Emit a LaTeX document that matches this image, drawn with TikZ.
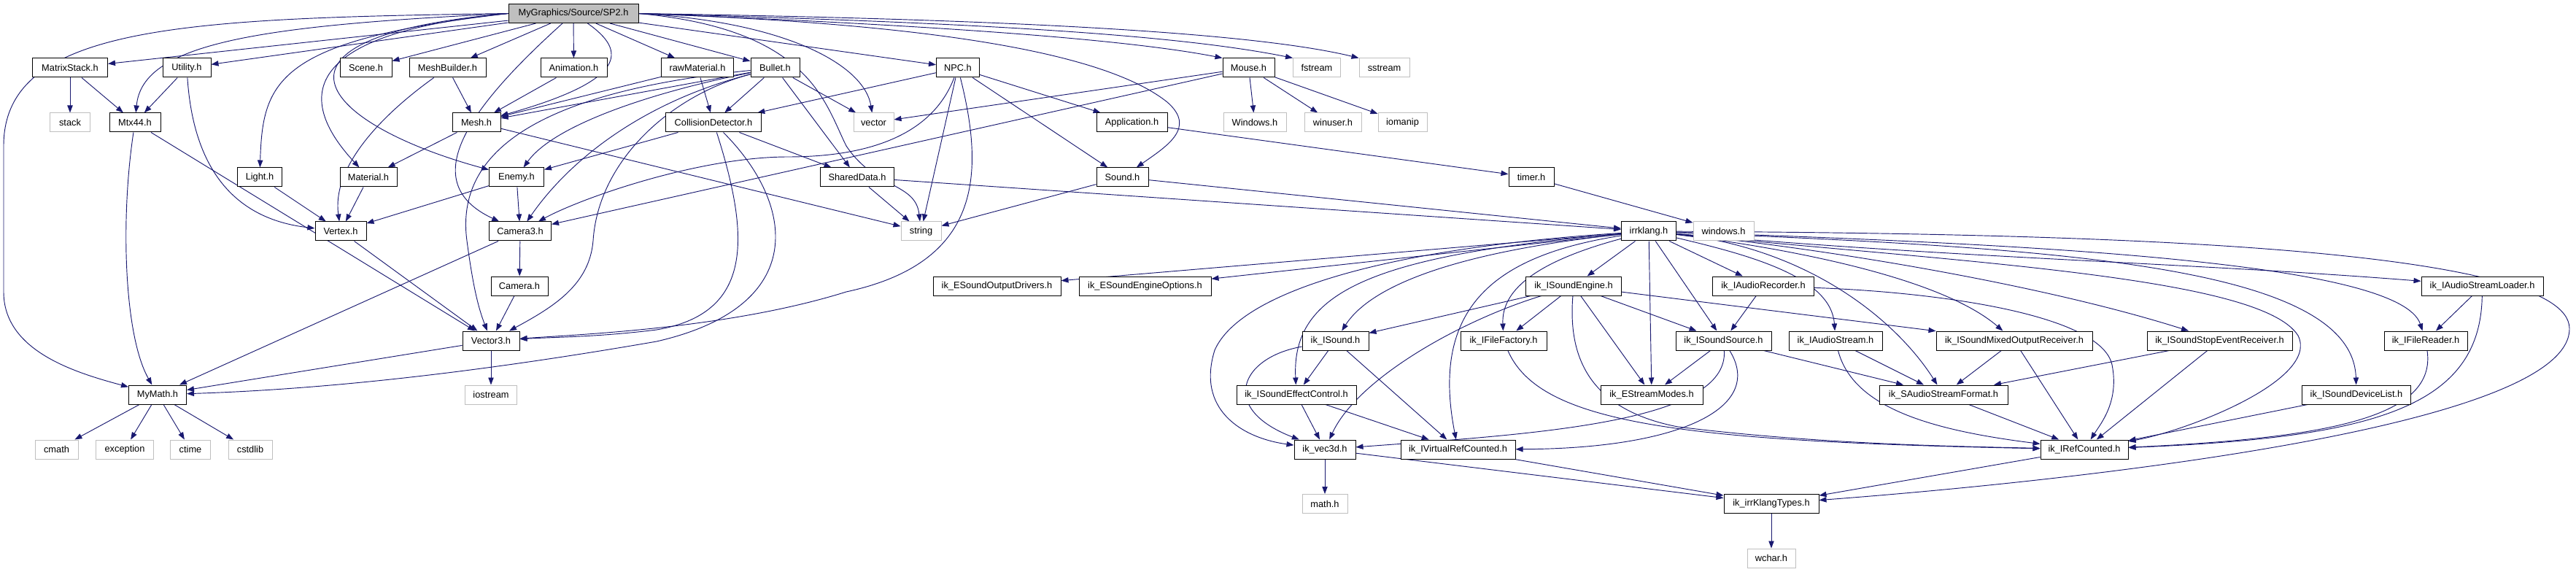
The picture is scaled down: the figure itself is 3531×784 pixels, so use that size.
\documentclass[tikz,border=0pt]{standalone}
\usepackage{fontspec}
\setmainfont{Liberation Sans}
\usetikzlibrary{arrows.meta,backgrounds}
\definecolor{edgeblue}{HTML}{191970}
\definecolor{sysgray}{HTML}{BFBFBF}

\begin{document}
\begin{tikzpicture}[x=0.75pt,y=-0.75pt, every node/.style={font=\fontsize{9.6}{11}\selectfont},
    hdr/.style={draw=black, fill=white, line width=0.75pt, minimum height=19.5pt, inner sep=0pt},
    sys/.style={hdr, draw=sysgray},
    root/.style={hdr, fill=sysgray},
    dep/.style={draw=edgeblue, line width=0.7pt, -{Triangle[length=7.5pt,width=5.5pt]}}]
    \useasboundingbox (0,0) rectangle (3531,784);

    \node[root, minimum width=133.5pt] (sp2) at (786,18.5) {MyGraphics/Source/SP2.h};
    \node[hdr, minimum width=77.25pt] (matrixstack) at (96,93) {MatrixStack.h};
    \node[hdr, minimum width=49.5pt] (utility) at (256,93) {Utility.h};
    \node[hdr, minimum width=53.25pt] (scene) at (501.5,93) {Scene.h};
    \node[hdr, minimum width=78.75pt] (meshbuilder) at (613.5,93) {MeshBuilder.h};
    \node[hdr, minimum width=68.25pt] (animation) at (786.5,93) {Animation.h};
    \node[hdr, minimum width=74.25pt] (rawmaterial) at (956,93) {rawMaterial.h};
    \node[hdr, minimum width=50.25pt] (bullet) at (1062.5,93) {Bullet.h};
    \node[hdr, minimum width=44.25pt] (npc) at (1313,93) {NPC.h};
    \node[hdr, minimum width=53.25pt] (mouse) at (1711.5,93) {Mouse.h};
    \node[sys, minimum width=48.75pt] (fstream) at (1805,93) {fstream};
    \node[sys, minimum width=51.75pt] (sstream) at (1897.5,93) {sstream};

    \node[sys, minimum width=41.25pt] (stack) at (96,168) {stack};
    \node[hdr, minimum width=52.5pt] (mtx44) at (185,168) {Mtx44.h};
    \node[hdr, minimum width=49.5pt] (mesh) at (653,168) {Mesh.h};
    \node[hdr, minimum width=98.25pt] (collision) at (978,168) {CollisionDetector.h};
    \node[sys, minimum width=41.25pt] (vector) at (1197.5,168) {vector};
    \node[hdr, minimum width=72.75pt] (application) at (1551.5,168) {Application.h};
    \node[sys, minimum width=64.5pt] (winupper) at (1720,168) {Windows.h};
    \node[sys, minimum width=58.5pt] (winuser) at (1827,168) {winuser.h};
    \node[sys, minimum width=50.25pt] (iomanip) at (1922.5,168) {iomanip};

    \node[hdr, minimum width=45.75pt] (light) at (356,243) {Light.h};
    \node[hdr, minimum width=58.5pt] (material) at (505,243) {Material.h};
    \node[hdr, minimum width=56.25pt] (enemy) at (708,243) {Enemy.h};
    \node[hdr, minimum width=75.75pt] (shareddata) at (1175,243) {SharedData.h};
    \node[hdr, minimum width=53.25pt] (sound) at (1538.5,243) {Sound.h};
    \node[hdr, minimum width=46.5pt] (timer) at (2099,243) {timer.h};

    \node[hdr, minimum width=52.5pt] (vertex) at (467,317) {Vertex.h};
    \node[hdr, minimum width=63.75pt] (camerathree) at (713,317) {Camera3.h};
    \node[sys, minimum width=41.25pt] (string) at (1262.5,317) {string};
    \node[hdr, minimum width=56.25pt] (irrklang) at (2260,317) {irrklang.h};
    \node[sys, minimum width=62.25pt] (winlower) at (2362.5,317) {windows.h};

    \node[hdr, minimum width=58.5pt] (camera) at (712,392) {Camera.h};
    \node[hdr, minimum width=131.25pt] (outdrivers) at (1366.5,392) {ik\_ESoundOutputDrivers.h};
    \node[hdr, minimum width=135.75pt] (engineopts) at (1569.5,392) {ik\_ESoundEngineOptions.h};
    \node[hdr, minimum width=98.25pt] (soundengine) at (2157,392) {ik\_ISoundEngine.h};
    \node[hdr, minimum width=104.25pt] (recorder) at (2417,392) {ik\_IAudioRecorder.h};
    \node[hdr, minimum width=125.25pt] (streamloader) at (3402.5,392) {ik\_IAudioStreamLoader.h};

    \node[hdr, minimum width=58.5pt] (vectorthree) at (673,467) {Vector3.h};
    \node[hdr, minimum width=68.25pt] (isound) at (1830.5,467) {ik\_ISound.h};
    \node[hdr, minimum width=88.5pt] (filefactory) at (2061,467) {ik\_IFileFactory.h};
    \node[hdr, minimum width=98.25pt] (soundsource) at (2362.5,467) {ik\_ISoundSource.h};
    \node[hdr, minimum width=96pt] (audiostream) at (2516,467) {ik\_IAudioStream.h};
    \node[hdr, minimum width=160.5pt] (mixedout) at (2761,467) {ik\_ISoundMixedOutputReceiver.h};
    \node[hdr, minimum width=149.25pt] (stopevent) at (3042.5,467) {ik\_ISoundStopEventReceiver.h};
    \node[hdr, minimum width=85.5pt] (filereader) at (3325,467) {ik\_IFileReader.h};

    \node[hdr, minimum width=59.25pt] (mymath) at (216,541) {MyMath.h};
    \node[sys, minimum width=53.25pt] (iostream) at (673,541) {iostream};
    \node[hdr, minimum width=123pt] (effectctrl) at (1777,541) {ik\_ISoundEffectControl.h};
    \node[hdr, minimum width=105pt] (streammodes) at (2264,541) {ik\_EStreamModes.h};
    \node[hdr, minimum width=132pt] (streamformat) at (2664,541) {ik\_SAudioStreamFormat.h};
    \node[hdr, minimum width=111.75pt] (devicelist) at (3230,541) {ik\_ISoundDeviceList.h};

    \node[sys, minimum width=44.25pt] (cmath) at (77.5,616) {cmath};
    \node[sys, minimum width=59.25pt] (exception) at (171,616) {exception};
    \node[sys, minimum width=41.25pt] (ctime) at (261,616) {ctime};
    \node[sys, minimum width=45pt] (cstdlib) at (343,616) {cstdlib};
    \node[hdr, minimum width=63pt] (vecthreed) at (1816,616) {ik\_vec3d.h};
    \node[hdr, minimum width=117.75pt] (virtualref) at (1998.5,616) {ik\_IVirtualRefCounted.h};
    \node[hdr, minimum width=90pt] (refcounted) at (2857,616) {ik\_IRefCounted.h};

    \node[sys, minimum width=46.5pt] (mathh) at (1816,690.5) {math.h};
    \node[hdr, minimum width=97.5pt] (types) at (2428,690.5) {ik\_irrKlangTypes.h};
    \node[sys, minimum width=49.5pt] (wchar) at (2428,765) {wchar.h};

    \begin{scope}[on background layer]
    \draw[dep] (sp2.west) .. controls (250,25) and (5,35) .. (5,200) -- (5,400) .. controls (5,480) and (100,510) .. (mymath);
    \draw[dep] (sp2) -- (matrixstack);
    \draw[dep] (sp2) -- (utility);
    \draw[dep] (sp2.west) .. controls (350,35) and (195,60) .. (mtx44);
    \draw[dep] (sp2.west) .. controls (380,55) and (360,110) .. (light);
    \draw[dep] (sp2.west) .. controls (420,45) and (400,130) .. (material);
    \draw[dep] (sp2.west) .. controls (330,50) and (440,170) .. (enemy);
    \draw[dep] (sp2) -- (scene);
    \draw[dep] (sp2) -- (meshbuilder);
    \draw[dep] (sp2) -- (animation);
    \draw[dep] (sp2) .. controls (860,70) and (860,110) .. (mesh);
    \draw[dep] (sp2) .. controls (640,150) and (570,250) .. (camerathree);
    \draw[dep] (sp2) -- (rawmaterial);
    \draw[dep] (sp2) -- (bullet);
    \draw[dep] (sp2.east) .. controls (1080,30) and (1185,90) .. (vector);
    \draw[dep] (sp2.east) .. controls (1110,40) and (1130,140) .. (1160,200) .. controls (1200,260) and (1255,250) .. (string);
    \draw[dep] (sp2) -- (npc);
    \draw[dep] (sp2.east) .. controls (1200,30) and (1500,60) .. (1600,140) .. controls (1640,175) and (1600,200) .. (sound);
    \draw[dep] (sp2.east) .. controls (1300,35) and (1550,55) .. (mouse.north west);
    \draw[dep] (sp2.east) .. controls (1300,30) and (1600,45) .. (fstream.north west);
    \draw[dep] (sp2.east) .. controls (1300,25) and (1700,40) .. (sstream.north west);

    \draw[dep] (matrixstack) -- (stack);
    \draw[dep] (matrixstack) -- (mtx44);
    \draw[dep] (utility) -- (mtx44);
    \draw[dep] (utility) .. controls (265,230) and (320,300) .. (vertex);
    \draw[dep] (mtx44) .. controls (165,300) and (170,460) .. (mymath);
    \draw[dep] (mtx44) -- (vectorthree);
    \draw[dep] (light) -- (vertex);
    \draw[dep] (material) -- (vertex);
    \draw[dep] (meshbuilder) -- (mesh);
    \draw[dep] (meshbuilder) .. controls (520,160) and (455,230) .. (vertex);
    \draw[dep] (animation) -- (mesh);
    \draw[dep] (mesh) -- (material);
    \draw[dep] (mesh) -- (string);
    \draw[dep] (enemy) -- (camerathree);
    \draw[dep] (enemy) -- (vertex);
    \draw[dep] (camerathree) -- (camera);
    \draw[dep] (camerathree) -- (mymath);
    \draw[dep] (camera) -- (vectorthree);
    \draw[dep] (vertex) -- (vectorthree);
    \draw[dep] (vectorthree) -- (mymath);
    \draw[dep] (vectorthree) -- (iostream);
    \draw[dep] (mymath) -- (cmath);
    \draw[dep] (mymath) -- (exception);
    \draw[dep] (mymath) -- (ctime);
    \draw[dep] (mymath) -- (cstdlib);

    \draw[dep] (rawmaterial) -- (mesh);
    \draw[dep] (rawmaterial) -- (collision);
    \draw[dep] (bullet) -- (mesh);
    \draw[dep] (bullet) .. controls (900,125) and (760,170) .. (enemy);
    \draw[dep] (bullet) .. controls (880,140) and (780,220) .. (camerathree);
    \draw[dep] (bullet) .. controls (800,120) and (620,180) .. (640,330) .. controls (648,390) and (655,420) .. (vectorthree);
    \draw[dep] (bullet) .. controls (920,130) and (820,220) .. (813,330) .. controls (808,390) and (760,420) .. (vectorthree);
    \draw[dep] (bullet) -- (collision);
    \draw[dep] (bullet) -- (shareddata);
    \draw[dep] (bullet) -- (vector);
    \draw[dep] (collision) -- (enemy);
    \draw[dep] (collision) -- (shareddata);
    \draw[dep] (collision) .. controls (1030,330) and (1030,430) .. (900,452) .. controls (820,462) and (760,462) .. (vectorthree);
    \draw[dep] (collision) .. controls (1090,280) and (1110,420) .. (900,468) .. controls (600,520) and (400,535) .. (mymath);
    \draw[dep] (npc) -- (collision);
    \draw[dep] (npc) .. controls (1280,180) and (1200,215) .. (1080,215) .. controls (960,215) and (800,270) .. (camerathree);
    \draw[dep] (npc) -- (string);
    \draw[dep] (npc) .. controls (1350,240) and (1345,360) .. (1160,400) .. controls (1000,450) and (800,458) .. (vectorthree);
    \draw[dep] (npc) -- (application);
    \draw[dep] (npc) -- (sound);
    \draw[dep] (mouse) -- (vector);
    \draw[dep] (mouse) -- (camerathree);
    \draw[dep] (mouse) -- (winupper);
    \draw[dep] (mouse) -- (winuser);
    \draw[dep] (mouse) -- (iomanip);
    \draw[dep] (application) -- (timer);
    \draw[dep] (shareddata) -- (string);
    \draw[dep] (shareddata) -- (irrklang);
    \draw[dep] (sound) -- (string);
    \draw[dep] (sound) -- (irrklang);
    \draw[dep] (timer) -- (winlower);

    \draw[dep] (irrklang) -- (outdrivers);
    \draw[dep] (irrklang) -- (engineopts);
    \draw[dep] (irrklang) .. controls (1880,350) and (1770,400) .. (effectctrl);
    \draw[dep] (irrklang) .. controls (1900,340) and (1700,400) .. (1665,480) .. controls (1640,560) and (1700,600) .. (vecthreed);
    \draw[dep] (irrklang) .. controls (2000,345) and (1880,390) .. (isound);
    \draw[dep] (irrklang) .. controls (2050,350) and (1960,420) .. (virtualref);
    \draw[dep] (irrklang) .. controls (2100,360) and (2058,400) .. (filefactory);
    \draw[dep] (irrklang) -- (soundengine);
    \draw[dep] (irrklang) -- (streammodes);
    \draw[dep] (irrklang) -- (soundsource);
    \draw[dep] (irrklang) -- (recorder);
    \draw[dep] (irrklang) .. controls (2400,350) and (2510,380) .. (audiostream);
    \draw[dep] (irrklang) .. controls (2480,340) and (2600,440) .. (streamformat);
    \draw[dep] (irrklang) .. controls (2450,340) and (2660,380) .. (mixedout);
    \draw[dep] (irrklang) .. controls (2500,340) and (2800,390) .. (stopevent);
    \draw[dep] (irrklang) .. controls (2700,360) and (3100,380) .. (3150,460) .. controls (3180,520) and (3000,590) .. (refcounted);
    \draw[dep] (irrklang) .. controls (2800,340) and (3225,360) .. (devicelist);
    \draw[dep] (irrklang) .. controls (2800,335) and (3290,360) .. (filereader);
    \draw[dep] (irrklang) .. controls (2700,355) and (3000,360) .. (streamloader);
    \draw[dep] (irrklang) .. controls (2900,320) and (3520,340) .. (3522,450) .. controls (3524,600) and (2700,670) .. (types);

    \draw[dep] (soundengine) -- (isound);
    \draw[dep] (soundengine) -- (filefactory);
    \draw[dep] (soundengine) -- (streammodes);
    \draw[dep] (soundengine) -- (soundsource);
    \draw[dep] (soundengine) .. controls (2000,440) and (1860,520) .. (vecthreed);
    \draw[dep] (soundengine) .. controls (2150,480) and (2170,560) .. (2300,585) .. controls (2500,610) and (2700,612) .. (refcounted);
    \draw[dep] (soundengine) -- (mixedout);
    \draw[dep] (recorder) -- (soundsource);
    \draw[dep] (recorder) .. controls (2650,400) and (2880,430) .. (2895,500) .. controls (2905,550) and (2880,580) .. (refcounted);
    \draw[dep] (isound) -- (effectctrl);
    \draw[dep] (isound) -- (virtualref);
    \draw[dep] (isound) .. controls (1700,490) and (1670,560) .. (vecthreed);
    \draw[dep] (effectctrl) -- (vecthreed);
    \draw[dep] (effectctrl) -- (virtualref);
    \draw[dep] (filefactory) .. controls (2110,580) and (2300,605) .. (refcounted);
    \draw[dep] (soundsource) -- (streammodes);
    \draw[dep] (soundsource) -- (streamformat);
    \draw[dep] (soundsource) .. controls (2370,580) and (2100,595) .. (vecthreed);
    \draw[dep] (soundsource) .. controls (2420,560) and (2300,615) .. (virtualref);
    \draw[dep] (audiostream) -- (streamformat);
    \draw[dep] (audiostream) .. controls (2540,560) and (2650,590) .. (refcounted);
    \draw[dep] (mixedout) -- (streamformat);
    \draw[dep] (mixedout) -- (refcounted);
    \draw[dep] (stopevent) -- (streamformat);
    \draw[dep] (stopevent) -- (refcounted);
    \draw[dep] (streamformat) -- (refcounted);
    \draw[dep] (devicelist) -- (refcounted);
    \draw[dep] (filereader) .. controls (3340,570) and (3200,600) .. (refcounted);
    \draw[dep] (streamloader) -- (filereader);
    \draw[dep] (streamloader) .. controls (3400,560) and (3250,600) .. (refcounted);
    \draw[dep] (refcounted) -- (types);
    \draw[dep] (virtualref) -- (types);
    \draw[dep] (vecthreed) -- (types);
    \draw[dep] (vecthreed) -- (mathh);
    \draw[dep] (types) -- (wchar);
    \end{scope}
\end{tikzpicture}
\end{document}
